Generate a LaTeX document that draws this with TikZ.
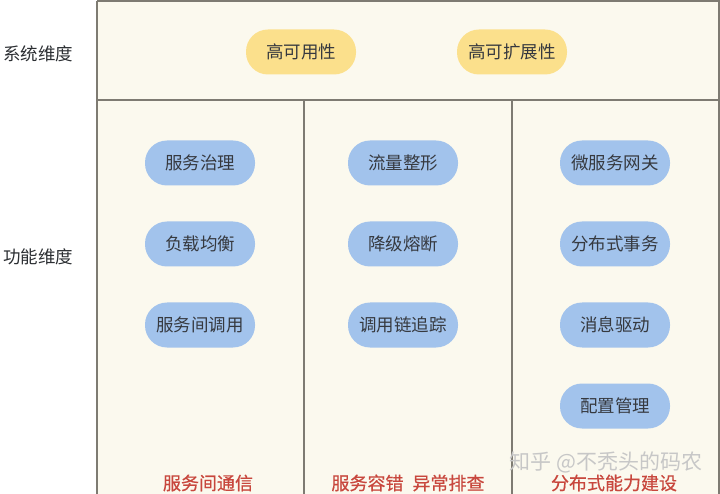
\documentclass[tikz,border=0pt]{standalone}
\usepackage{fontspec}
\newfontfamily\cjk{Noto Sans CJK SC}
\newfontfamily\cjkm{Noto Sans CJK SC}[FakeBold=0.6]
\definecolor{sfondo}{HTML}{FBF9EE}
\definecolor{bordo}{HTML}{7E7B72}
\definecolor{giallo}{HTML}{FBE08C}
\definecolor{azzurro}{HTML}{A2C3EC}
\definecolor{testo}{HTML}{36393F}
\definecolor{rosso}{HTML}{C8473D}
\begin{document}
\begin{tikzpicture}[
    x=1pt, y=-1pt,
    font=\cjk\fontsize{17.5}{20}\selectfont,
    pillola/.style={rounded corners=22pt,minimum width=110pt,minimum height=45pt,
      inner sep=2pt,text=testo},
    qualita/.style={pillola,fill=giallo},
    funzione/.style={pillola,fill=azzurro},
    dimensione/.style={text=testo!80!black},
    gruppo/.style={text=rosso,font=\cjkm\fontsize{18}{20}\selectfont},
    linea/.style={draw=bordo,line width=1.1pt}]

  \useasboundingbox (0,0) rectangle (720,494);
  \fill[sfondo] (97,1) rectangle (719,494);

  % griglia
  \draw[linea] (97,1) -- (719,1) -- (719,500);
  \draw[linea] (97,1) -- (97,500);
  \draw[linea] (97,100) -- (719,100);
  \draw[linea] (304,100) -- (304,500);
  \draw[linea] (512,100) -- (512,500);

  % dimensioni a sinistra
  \node[dimensione] (sis) at (38,54)  {系统维度};
  \node[dimensione] (fun) at (38,257) {功能维度};

  % qualita del sistema
  \node[qualita] (ha) at (301,52) {高可用性};
  \node[qualita] (hs) at (512,52) {高可扩展性};

  % colonna 1
  \node[funzione] (c1a) at (200,163) {服务治理};
  \node[funzione] (c1b) at (200,244) {负载均衡};
  \node[funzione] (c1c) at (200,325) {服务间调用};

  % colonna 2
  \node[funzione] (c2a) at (403,163) {流量整形};
  \node[funzione] (c2b) at (403,244) {降级熔断};
  \node[funzione] (c2c) at (403,325) {调用链追踪};

  % colonna 3
  \node[funzione] (c3a) at (615,163) {微服务网关};
  \node[funzione] (c3b) at (615,244) {分布式事务};
  \node[funzione] (c3c) at (615,325) {消息驱动};
  \node[funzione] (c3d) at (615,406) {配置管理};

  % titoli delle colonne
  \node[gruppo] (g1) at (208,483) {服务间通信};
  \node[gruppo] (g2) at (408,483) {服务容错\hspace{0.5em}异常排查};
  \node[gruppo] (g3) at (614,483) {分布式能力建设};

  % filigrana
  \node[text=black!22,font=\cjk\fontsize{21}{23}\selectfont] (wm) at (606,462) {知乎 @不秃头的码农};

\end{tikzpicture}
\end{document}
